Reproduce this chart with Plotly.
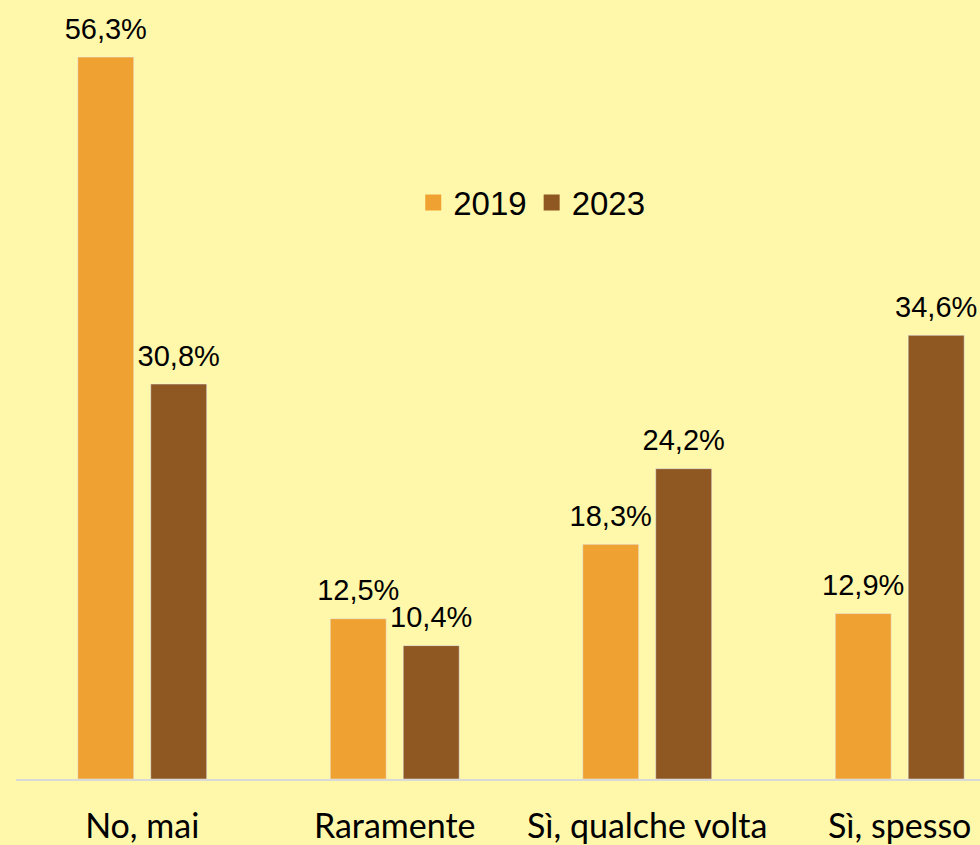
import plotly.graph_objects as go

categories = ["No, mai", "Raramente", "Sì, qualche volta", "Sì, spesso"]
values_2019 = [56.3, 12.5, 18.3, 12.9]
values_2023 = [30.8, 10.4, 24.2, 34.6]

ORANGE = "#EFA231"
BROWN = "#8F5722"
BG = "#FFF8AB"

fig = go.Figure()
for name, vals, col in [("2019", values_2019, ORANGE), ("2023", values_2023, BROWN)]:
    fig.add_trace(go.Bar(x=categories, y=vals, name=name, marker_color=col,
                         offsetgroup=name, showlegend=False))
    # value labels, placed over the bars with a bit more room than bar text gives
    fig.add_trace(go.Scatter(x=categories, y=vals, mode="markers+text", offsetgroup=name,
                             texttemplate="%{y:.1f}%", textposition="top center",
                             textfont=dict(family="Liberation Sans", size=29, color="black"),
                             marker=dict(size=16, color="rgba(0,0,0,0)"),
                             cliponaxis=False, showlegend=False, hoverinfo="skip"))
    # legend-only entry with a bigger square marker
    fig.add_trace(go.Scatter(x=[None], y=[None], mode="markers", name=name,
                             marker=dict(symbol="square", size=21, color=col)))

fig.update_layout(
    width=980, height=845,
    paper_bgcolor=BG, plot_bgcolor=BG,
    separators=",.",
    barmode="group", bargap=0.422, bargroupgap=0.233,
    scattermode="group", scattergap=0.422,
    margin=dict(l=16, r=0, t=0, b=66),
    legend=dict(orientation="h", x=0.535, y=0.74, xanchor="center", yanchor="middle",
                font=dict(family="Liberation Sans", size=33, color="black"),
                bgcolor="rgba(0,0,0,0)", itemsizing="trace"),
)
fig.update_xaxes(range=[-0.5, 3.318], showline=True, linecolor="#D9D9D9", linewidth=2,
                 ticks="", ticklabelstandoff=16, automargin=False,
                 tickfont=dict(family="Lato", size=34, color="black"))
fig.update_yaxes(range=[0, 60.75], visible=False, showgrid=False, zeroline=False,
                 automargin=False)

fig.write_html("out.html", config={"displayModeBar": False},
               post_script="document.body.style.margin='0';")
